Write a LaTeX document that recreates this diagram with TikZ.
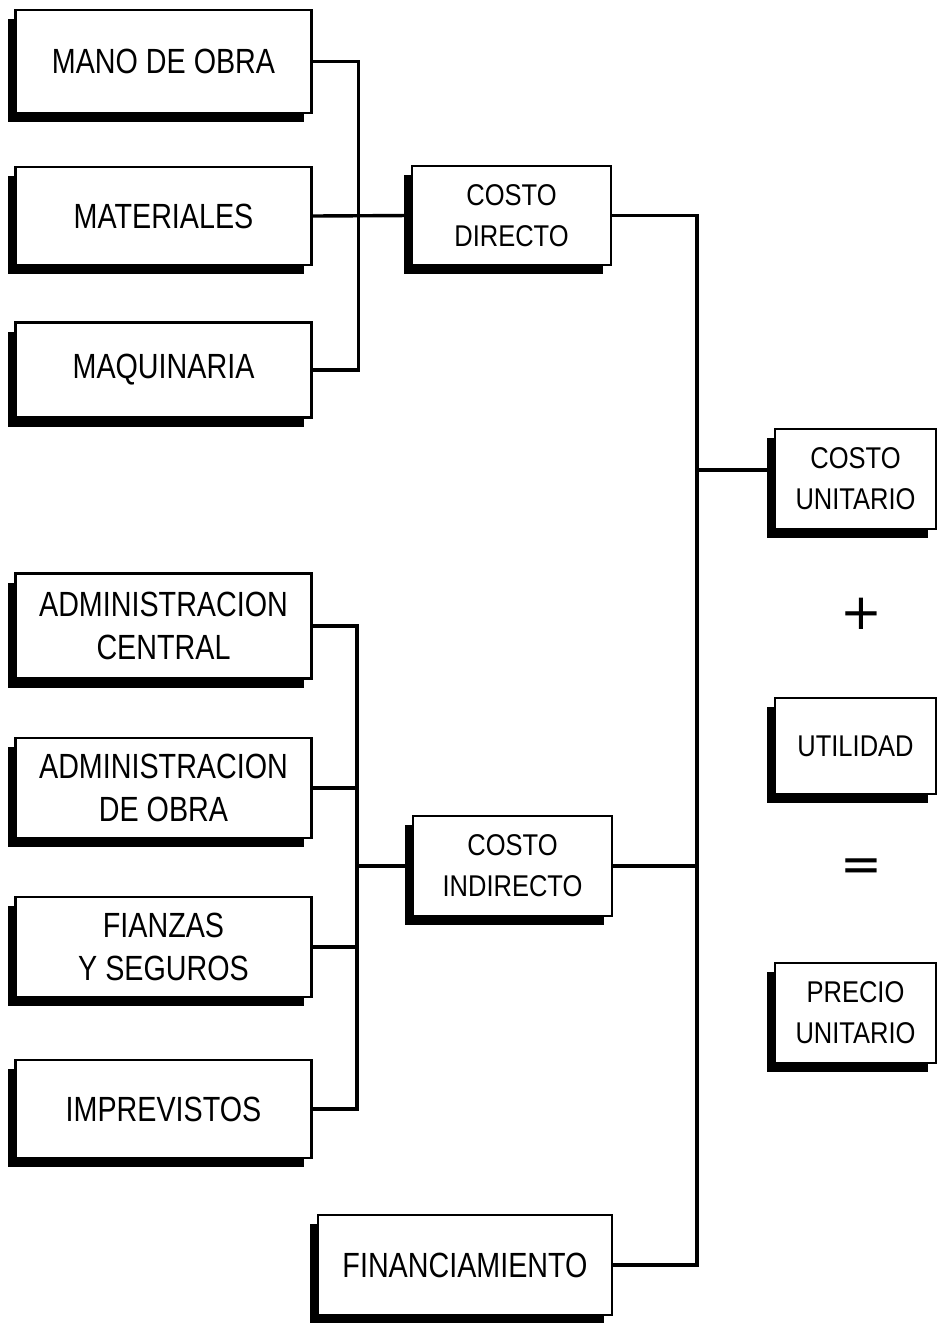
\documentclass[tikz,border=0pt]{standalone}
\usepackage{fontspec}
\setmainfont{Liberation Sans}
\newfontfamily\bigf{Liberation Sans}[FakeStretch=0.82]
\newfontfamily\smf{Liberation Sans}[FakeStretch=0.85]
\newfontfamily\symf{DejaVu Sans}
\usetikzlibrary{shadows}
\begin{document}
\begin{tikzpicture}[x=1pt,y=-1pt,
  box/.style={draw, line width=2.2pt, fill=white, rectangle, inner sep=0pt, align=center,
    drop shadow={shadow xshift=-8pt, shadow yshift=-9pt, fill=black, opacity=1}},
  bigtxt/.style={font=\bigf\fontsize{35}{43}\selectfont},
  smtxt/.style={font=\smf\fontsize{30}{41}\selectfont},
  conn/.style={line width=3.4pt},
  sym/.style={font=\symf\fontsize{50}{50}\selectfont, inner sep=0pt}]
\fill[white] (0,0) rectangle (939,1323);
\useasboundingbox (0,0) rectangle (939,1323);

% left column, upper group
\node[box, bigtxt, minimum width=296pt, minimum height=103pt] (mano) at (163.5,61.5) {MANO DE OBRA};
\node[box, bigtxt, minimum width=296pt, minimum height=98pt] (mat) at (163.5,216) {MATERIALES};
\node[box, bigtxt, minimum width=296pt, minimum height=95pt] (maq) at (163.5,370) {MAQUINARIA};

% left column, lower group
\node[box, bigtxt, minimum width=296pt, minimum height=105pt] (adc) at (163.5,626) {ADMINISTRACION\\CENTRAL};
\node[box, bigtxt, minimum width=296pt, minimum height=100pt] (ado) at (163.5,788) {ADMINISTRACION\\DE OBRA};
\node[box, bigtxt, minimum width=296pt, minimum height=100pt] (fys) at (163.5,947) {FIANZAS\\Y SEGUROS};
\node[box, bigtxt, minimum width=296pt, minimum height=98pt] (imp) at (163.5,1109) {IMPREVISTOS};

% middle column
\node[box, smtxt, minimum width=199pt, minimum height=99pt] (cd) at (511.5,215.5) {COSTO\\DIRECTO};
\node[box, smtxt, minimum width=199pt, minimum height=100pt] (ci) at (512.5,866) {COSTO\\INDIRECTO};
\node[box, bigtxt, minimum width=294pt, minimum height=100pt] (fin) at (465,1265) {FINANCIAMIENTO};

% right column
\node[box, smtxt, minimum width=161pt, minimum height=100pt] (cu) at (855.5,479) {COSTO\\UNITARIO};
\node[sym] (plus) at (861,614) {+};
\node[box, smtxt, minimum width=161pt, minimum height=96pt] (util) at (855.5,746) {UTILIDAD};
\node[sym] (eq) at (861,870) {=};
\node[box, smtxt, minimum width=161pt, minimum height=100pt] (pu) at (855.5,1013) {PRECIO\\UNITARIO};

% connectors, upper left group
\draw[conn] (mano.east) -- ++(46,0) |- (maq.east);
\draw[conn] (mat.east) -- (cd.west);

% connectors, lower left group
\coordinate (lb) at (357,0);
\draw[conn] (adc.east) -| (lb |- imp.east) -- (imp.east);
\draw[conn] (ado.east) -- (ado.east -| lb);
\draw[conn] (fys.east) -- (fys.east -| lb);
\draw[conn] (ci.west -| lb) -- (ci.west);

% right bus
\coordinate (rb) at (697,0);
\draw[conn] (cd.east) -| (rb |- fin.east) -- (fin.east);
\draw[conn] (ci.east) -- (ci.east -| rb);
\draw[conn] ([yshift=9pt]cu.west) -- ++(-78,0);
\end{tikzpicture}
\end{document}
